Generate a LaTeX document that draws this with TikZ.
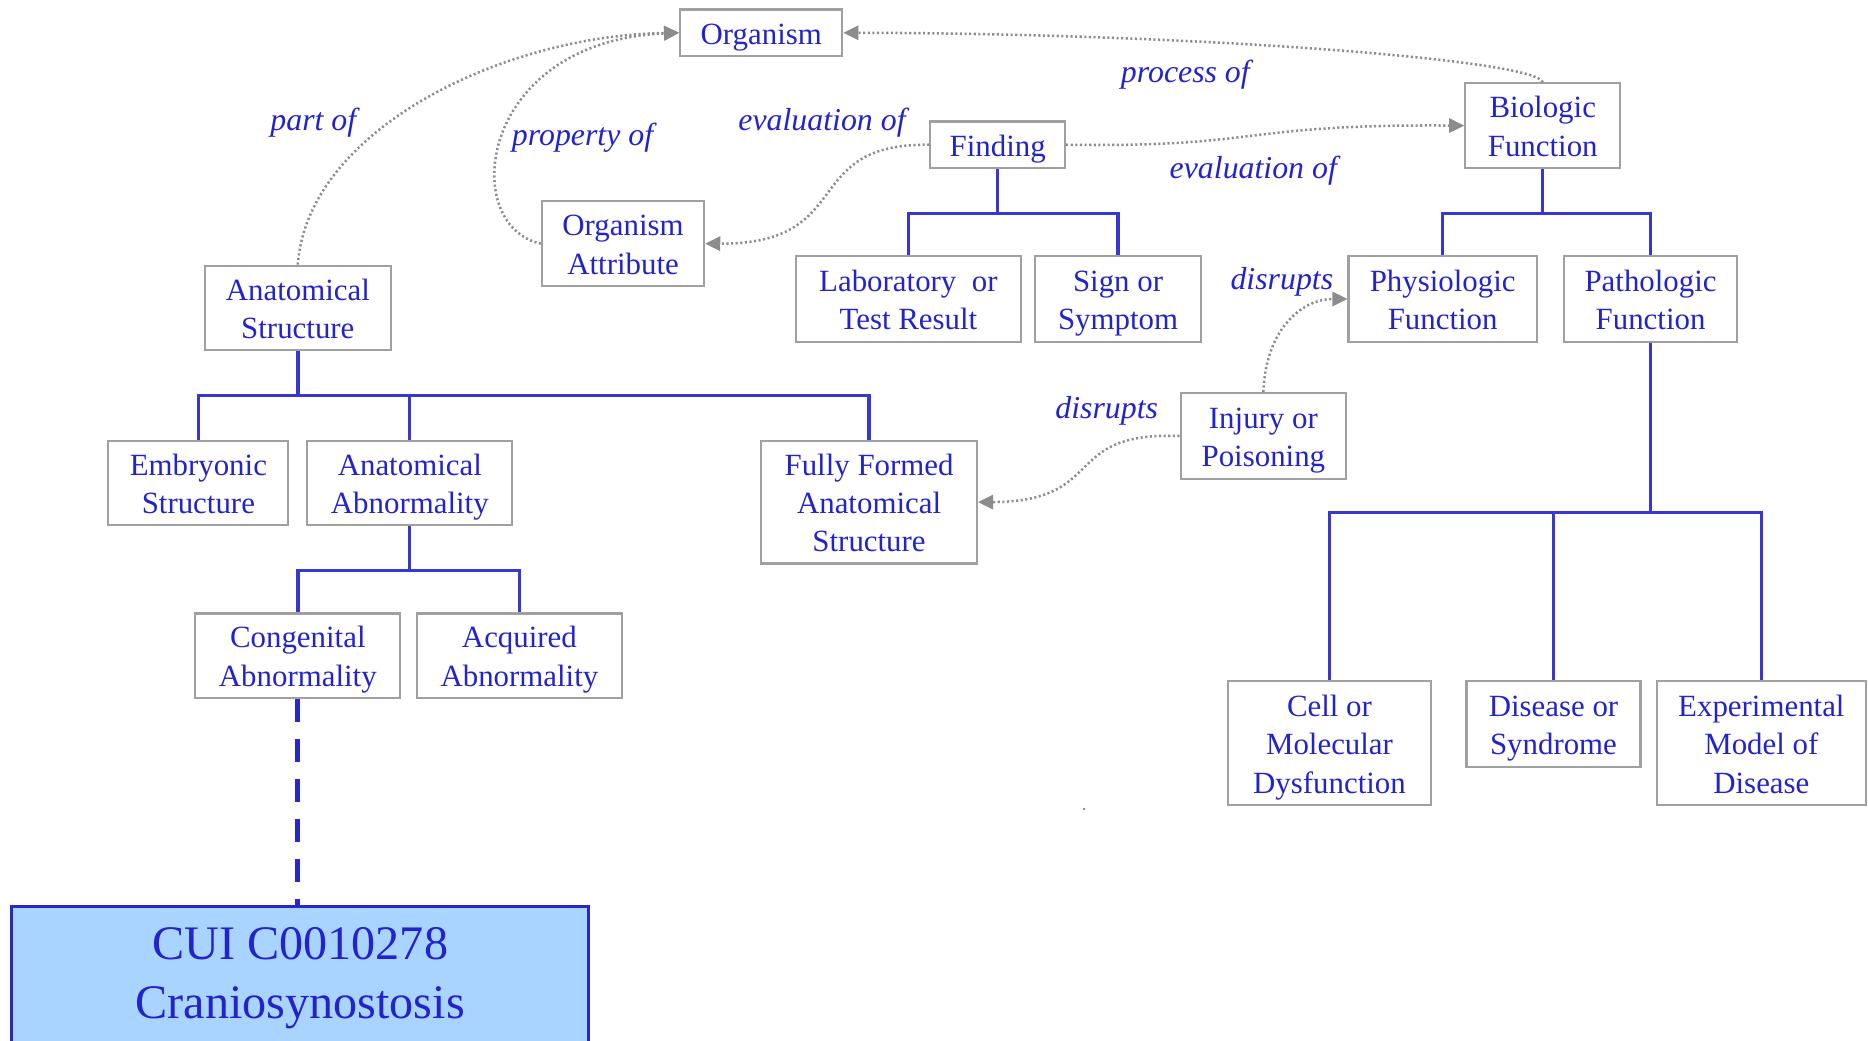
\documentclass[tikz,border=0pt]{standalone}
\usepackage{fontspec}
\setmainfont{Liberation Serif}
\usetikzlibrary{arrows.meta}
\definecolor{txtblue}{RGB}{35,35,205}
\definecolor{treeblue}{RGB}{55,55,210}
\definecolor{boxgray}{RGB}{160,160,160}
\definecolor{arrgray}{RGB}{140,140,140}
\definecolor{cuifill}{RGB}{168,212,255}
\definecolor{cuiborder}{RGB}{40,40,200}
\newcommand\bt{\rule{0pt}{7.4pt}}
\newcommand\bb{\rule[-2pt]{0pt}{2pt}}
\begin{document}
\begin{tikzpicture}[x=0.01cm,y=-0.01cm,
  box/.style={draw=boxgray, line width=0.5pt, inner sep=0pt, align=center, text=txtblue,
    font=\fontsize{7.37pt}{9.15pt}\selectfont},
  sz/.style 2 args={minimum width=#1cm, minimum height=#2cm},
  tree/.style={draw=treeblue, line width=0.8pt},
  rel/.style={draw=arrgray, line width=0.6pt, dash pattern=on 0.5pt off 0.6pt,
    -{Triangle[length=3.6pt,width=3.4pt]}},
  lbl/.style={text=txtblue, inner sep=0pt, font=\fontsize{7.6pt}{9pt}\selectfont\itshape}]
\useasboundingbox (0,0) rectangle (1568,873);

% nodes
\node[box,sz={1.36}{0.39}] (org) at (639,27.5) {\bt\bb Organism};
\node[box,sz={1.30}{0.71}] (bio) at (1295,105.5) {\bt Biologic\\\bb Function};
\node[box,sz={1.13}{0.39}] (find) at (837.5,121.5) {\bt\bb Finding};
\node[box,sz={1.36}{0.71}] (oattr) at (523,204.5) {\bt Organism\\\bb Attribute};
\node[box,sz={1.56}{0.71}] (anat) at (250,258.5) {\bt Anatomical\\\bb Structure};
\node[box,sz={1.89}{0.72}] (lab) at (762.5,251) {\bt Laboratory\ \ or\\\bb Test Result};
\node[box,sz={1.39}{0.72}] (sign) at (938.5,251) {\bt Sign or\\\bb Symptom};
\node[box,sz={1.58}{0.72}] (phys) at (1211,251) {\bt Physiologic\\\bb Function};
\node[box,sz={1.45}{0.72}] (path) at (1385.5,251) {\bt Pathologic\\\bb Function};
\node[box,sz={1.51}{0.71}] (emb) at (166.5,405.5) {\bt Embryonic\\\bb Structure};
\node[box,sz={1.72}{0.71}] (aabn) at (344,405.5) {\bt Anatomical\\\bb Abnormality};
\node[box,sz={1.81}{1.03}] (ffas) at (729.5,421.5) {\bt Fully Formed\\Anatomical\\\bb Structure};
\node[box,sz={1.39}{0.72}] (inj) at (1060.5,366) {\bt Injury or\\\bb Poisoning};
\node[box,sz={1.72}{0.71}] (cong) at (250,550.5) {\bt Congenital\\\bb Abnormality};
\node[box,sz={1.72}{0.71}] (acq) at (436,550.5) {\bt Acquired\\\bb Abnormality};
\node[box,sz={1.70}{1.04}] (cell) at (1116,624) {\bt Cell or\\Molecular\\\bb Dysfunction};
\node[box,sz={1.46}{0.72}] (dis) at (1304,608) {\bt Disease or\\\bb Syndrome};
\node[box,sz={1.75}{1.04}] (exp) at (1478.5,624) {\bt Experimental\\Model of\\\bb Disease};

\node[draw=cuiborder, fill=cuifill, line width=0.7pt, inner sep=0pt,
  minimum width=4.84cm, minimum height=1.4cm, anchor=north] (cui) at (252,760) {};
\node[text=txtblue, align=center, inner sep=0pt,
  font=\fontsize{11.5pt}{14pt}\selectfont] (cuitext) at (252,821) {CUI C0010278\\Craniosynostosis};

% tree connectors
\coordinate (b1) at (250,332);
\draw[tree] (anat.south) -- (anat.south|-b1);
\draw[tree] (emb.north) |- (ffas.north|-b1) -- (ffas.north);
\draw[tree] (aabn.north) -- (aabn.north|-b1);

\coordinate (b2) at (344,479);
\draw[tree] (aabn.south) -- (aabn.south|-b2);
\draw[tree] (cong.north) |- (acq.north|-b2) -- (acq.north);

\coordinate (b3) at (838,179);
\draw[tree] (find.south) -- (find.south|-b3);
\draw[tree] (lab.north) |- (sign.north|-b3) -- (sign.north);

\coordinate (b4) at (1295,179);
\draw[tree] (bio.south) -- (bio.south|-b4);
\draw[tree] (phys.north) |- (path.north|-b4) -- (path.north);

\coordinate (b5) at (1385,430);
\draw[tree] (path.south) -- (path.south|-b5);
\draw[tree] (cell.north) |- (exp.north|-b5) -- (exp.north);
\draw[tree] (dis.north) -- (dis.north|-b5);

\draw[draw=cuiborder, line width=1.15pt, dash pattern=on 0.19cm off 0.145cm]
  (cong.south) -- (cong.south|-cui.north);

% relations
\draw[rel] (anat.north) .. controls (258,110) and (420,30) .. (org.west);
\draw[rel] (oattr.west) .. controls (385,190) and (400,35) .. (org.west);
\draw[rel] (find.west) .. controls (670,120) and (720,205) .. (oattr.east);
\draw[rel] (find.east) .. controls (1060,124) and (1040,104) .. (bio.west);
\draw[rel] (bio.north) .. controls (1290,50) and (1000,28) .. (org.east);
\draw[rel] (inj.north) .. controls (1062,280) and (1090,251) .. (phys.west);
\draw[rel] (inj.west) .. controls (890,362) and (930,421) .. (ffas.east);

% labels
\node[lbl] (lpart) at (263,103) {part of};
\node[lbl] (lprop) at (489,116) {property of};
\node[lbl] (leval1) at (690,103) {evaluation of};
\node[lbl] (lproc) at (995,63) {process of};
\node[lbl] (leval2) at (1052,143) {evaluation of};
\node[lbl] (ldis1) at (1076,237) {disrupts};
\node[lbl] (ldis2) at (929,345) {disrupts};

\fill[txtblue] (910,679) circle (0.008cm);
\end{tikzpicture}
\end{document}
